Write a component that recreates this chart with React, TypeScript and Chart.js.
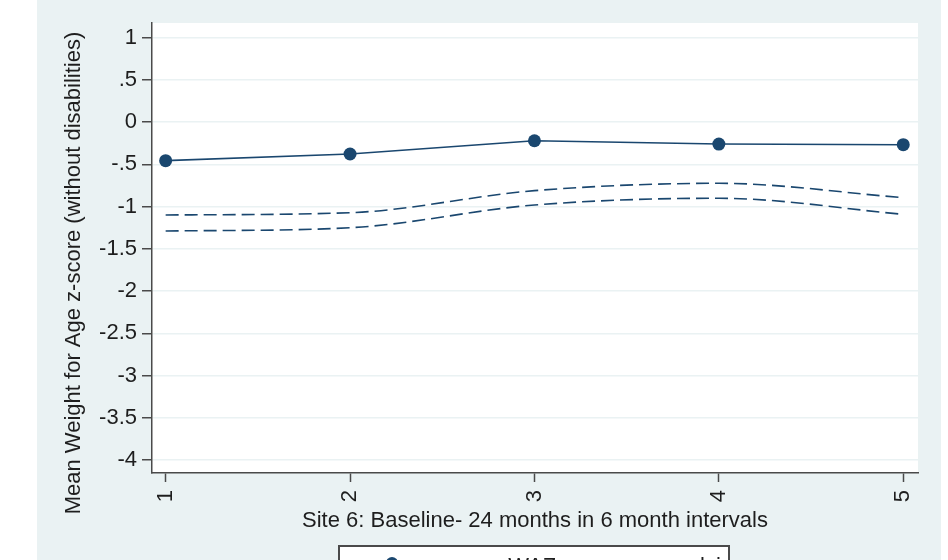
import React, { useEffect, useRef } from "react";
import { Chart, registerables } from "chart.js";

Chart.register(...registerables);

const periods = [1, 2, 3, 4, 5];
const meanWaz = [-0.456, -0.377, -0.22, -0.259, -0.267];
const upperCi = [-1.099, -1.072, -0.811, -0.724, -0.894];
const lowerCi = [-1.289, -1.25, -0.981, -0.901, -1.091];
const yTickValues = [-4, -3.5, -3, -2.5, -2, -1.5, -1, -0.5, 0, 0.5, 1];
const xTitle = "Site 6: Baseline- 24 months in 6 month intervals";
const yTitle = "Mean Weight for Age z-score (without disabilities)";
const legendLabels = ["mean WAZ", "lci"];

const NAVY = "#1A476F";
const BG = "#EAF2F3";
const AXIS = "#4a4a4a";
const TEXT = "#1e1e1e";
const FONT = "'Liberation Sans', Arial, sans-serif";

function fmtTick(v: number): string {
  const s = String(v);
  return s.replace(/^(-?)0\./, "$1.");
}

export default function App() {
  const ref = useRef<HTMLCanvasElement | null>(null);

  useEffect(() => {
    if (!ref.current) return;
    const bgPlugin = {
      id: "stataBg",
      beforeDraw(chart: any) {
        const { ctx, chartArea } = chart;
        ctx.save();
        ctx.fillStyle = "#ffffff";
        ctx.fillRect(0, 0, chart.width, chart.height);
        ctx.fillStyle = BG;
        ctx.fillRect(37, 0, 904, chart.height);
        ctx.fillStyle = "#ffffff";
        ctx.fillRect(chartArea.left, chartArea.top, chartArea.right - chartArea.left, chartArea.bottom - chartArea.top);
        ctx.restore();
      },
      afterDraw(chart: any) {
        const { ctx } = chart;
        ctx.save();
        // y axis title
        ctx.translate(80, 273);
        ctx.rotate(-Math.PI / 2);
        ctx.font = `22px ${FONT}`;
        ctx.fillStyle = TEXT;
        ctx.textAlign = "center";
        ctx.textBaseline = "alphabetic";
        ctx.fillText(yTitle, 0, 0);
        ctx.restore();
        // legend box (cut off at the bottom)
        ctx.save();
        ctx.fillStyle = "#ffffff";
        ctx.strokeStyle = AXIS;
        ctx.lineWidth = 2;
        ctx.fillRect(339, 546, 390, 40);
        ctx.strokeRect(339, 546, 390, 40);
        ctx.fillStyle = NAVY;
        ctx.beginPath();
        ctx.arc(392, 563, 6, 0, Math.PI * 2);
        ctx.fill();
        ctx.strokeStyle = NAVY;
        ctx.lineWidth = 1.5;
        ctx.beginPath();
        ctx.moveTo(355, 563);
        ctx.lineTo(430, 563);
        ctx.stroke();
        ctx.font = `22px ${FONT}`;
        ctx.fillStyle = TEXT;
        ctx.textBaseline = "alphabetic";
        ctx.textAlign = "left";
        ctx.fillText(legendLabels[0], 447, 573);
        ctx.fillText(legendLabels[1], 700, 573);
        ctx.restore();
      },
    };

    const chart = new Chart(ref.current, {
      type: "line",
      data: {
        datasets: [
          {
            label: legendLabels[0],
            data: periods.map((x, i) => ({ x, y: meanWaz[i] })),
            borderColor: NAVY,
            backgroundColor: NAVY,
            borderWidth: 1.6,
            pointRadius: 6.5,
            pointBorderWidth: 0,
            pointBackgroundColor: NAVY,
            tension: 0,
          },
          {
            label: "upper",
            data: periods.map((x, i) => ({ x, y: upperCi[i] })),
            borderColor: NAVY,
            borderWidth: 1.6,
            borderDash: [13, 6],
            pointRadius: 0,
            cubicInterpolationMode: "monotone",
          },
          {
            label: "lower",
            data: periods.map((x, i) => ({ x, y: lowerCi[i] })),
            borderColor: NAVY,
            borderWidth: 1.6,
            borderDash: [13, 6],
            pointRadius: 0,
            cubicInterpolationMode: "monotone",
          },
        ],
      },
      options: {
        responsive: false,
        animation: false,
        devicePixelRatio: 1,
        layout: { padding: { top: 23, right: 30, left: 0, bottom: 0 } },
        plugins: { legend: { display: false }, tooltip: { enabled: false } },
        scales: {
          x: {
            type: "linear",
            min: 0.926,
            max: 5.08,
            afterBuildTicks: (s: any) => {
              s.ticks = periods.map((v) => ({ value: v }));
            },
            afterFit: (s: any) => {
              s.height = 87;
            },
            ticks: {
              minRotation: 90,
              maxRotation: 90,
              autoSkip: false,
              padding: 8,
              color: TEXT,
              font: { family: FONT, size: 22 },
              callback: (v: any) => String(v),
            },
            grid: { drawOnChartArea: false, tickLength: 9, tickColor: AXIS, tickWidth: 1.5 },
            border: { color: AXIS, width: 1.5 },
            title: {
              display: true,
              text: xTitle,
              color: TEXT,
              font: { family: FONT, size: 22 },
              padding: { top: 0, bottom: 26 },
            },
          },
          y: {
            type: "linear",
            min: -4.154,
            max: 1.174,
            afterBuildTicks: (s: any) => {
              s.ticks = yTickValues.map((v) => ({ value: v }));
            },
            afterFit: (s: any) => {
              s.width = 152;
            },
            ticks: {
              padding: 5,
              color: TEXT,
              font: { family: FONT, size: 22 },
              callback: (v: any) => fmtTick(Number(v)),
            },
            grid: { color: BG, lineWidth: 1.5, tickLength: 10, tickColor: AXIS, tickWidth: 1.5 },
            border: { color: AXIS, width: 1.5 },
          },
        },
      },
      plugins: [bgPlugin],
    } as any);
    return () => chart.destroy();
  }, []);

  return (
    <div style={{ position: "absolute", left: 0, top: 0, width: 948, height: 560 }}>
      <canvas ref={ref} width={948} height={560} />
    </div>
  );
}
